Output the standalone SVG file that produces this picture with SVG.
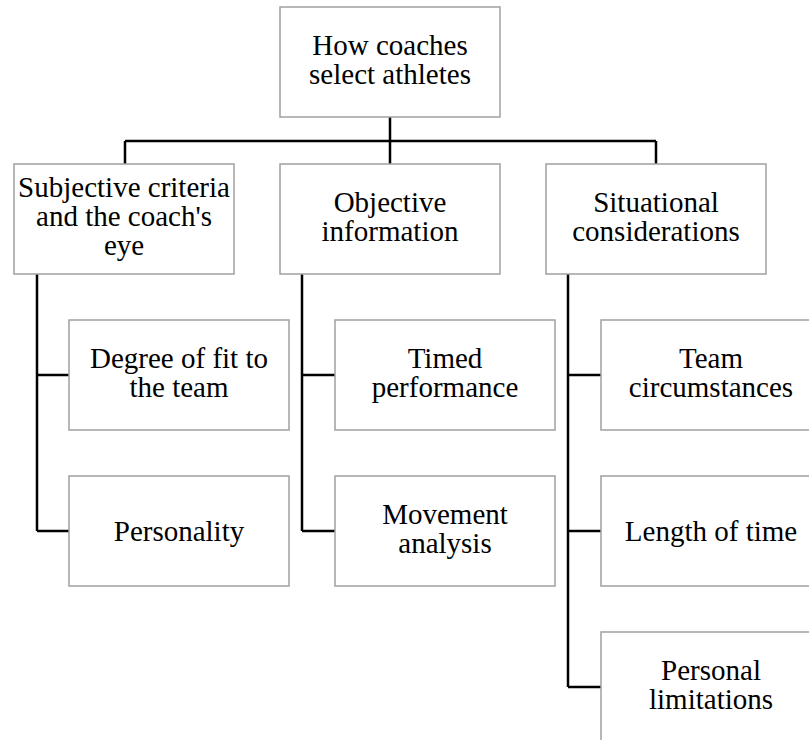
<svg xmlns="http://www.w3.org/2000/svg" width="809" height="740" viewBox="0 0 809 740">
<style>
.box{fill:#fff;stroke:#a0a0a0;stroke-width:1.5}
.t{font-size:29px;fill:#000;text-anchor:middle}
.c{fill:none;stroke:#000;stroke-width:2.5}
</style>
<rect width="809" height="740" fill="#fff"/>
<g id="connectors">
<path class="c" d="M390 117V141M125 141H656M125 141V164M390 141V164M656 141V164"/>
<path class="c" d="M37 274V531M37 375H69M37 531H69"/>
<path class="c" d="M302 274V531M302 375H335M302 531H335"/>
<path class="c" d="M568 274V687M568 375H601M568 531H601M568 687H601"/>
</g>
<g font-family="Liberation Serif, Times New Roman, Times, serif">
<g id="root"><rect class="box" x="280" y="7" width="220" height="110"/>
<text class="t" x="390" y="55">How coaches</text><text class="t" x="390" y="84">select athletes</text></g>
<g id="subjective"><rect class="box" x="14" y="164" width="220" height="110"/>
<text class="t" x="124" y="197">Subjective criteria</text><text class="t" x="124" y="226">and the coach's</text><text class="t" x="124" y="255">eye</text></g>
<g id="objective"><rect class="box" x="280" y="164" width="220" height="110"/>
<text class="t" x="390" y="212">Objective</text><text class="t" x="390" y="241">information</text></g>
<g id="situational"><rect class="box" x="546" y="164" width="220" height="110"/>
<text class="t" x="656" y="212">Situational</text><text class="t" x="656" y="241">considerations</text></g>
<g id="fit"><rect class="box" x="69" y="320" width="220" height="110"/>
<text class="t" x="179" y="368">Degree of fit to</text><text class="t" x="179" y="397">the team</text></g>
<g id="personality"><rect class="box" x="69" y="476" width="220" height="110"/>
<text class="t" x="179" y="541">Personality</text></g>
<g id="timed"><rect class="box" x="335" y="320" width="220" height="110"/>
<text class="t" x="445" y="368">Timed</text><text class="t" x="445" y="397">performance</text></g>
<g id="movement"><rect class="box" x="335" y="476" width="220" height="110"/>
<text class="t" x="445" y="524">Movement</text><text class="t" x="445" y="553">analysis</text></g>
<g id="team"><rect class="box" x="601" y="320" width="220" height="110"/>
<text class="t" x="711" y="368">Team</text><text class="t" x="711" y="397">circumstances</text></g>
<g id="length"><rect class="box" x="601" y="476" width="220" height="110"/>
<text class="t" x="711" y="541">Length of time</text></g>
<g id="personal"><rect class="box" x="601" y="632" width="220" height="110"/>
<text class="t" x="711" y="680">Personal</text><text class="t" x="711" y="709">limitations</text></g>
</g>
</svg>
